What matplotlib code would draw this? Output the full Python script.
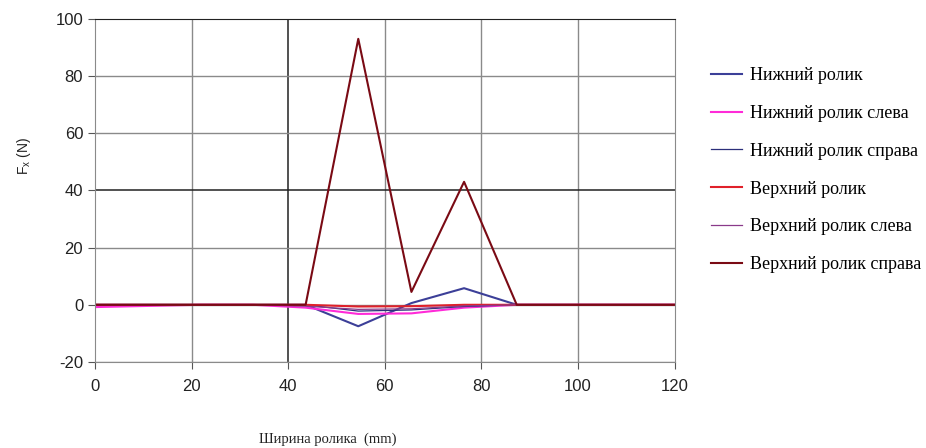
import matplotlib
matplotlib.use("Agg")
import matplotlib.pyplot as plt

plt.rcParams["axes.unicode_minus"] = False

# Roller width positions (mm)
width_mm = [0, 10.9, 21.8, 32.7, 43.6, 54.5, 65.5, 76.4, 87.3, 98.2, 109.1, 120]

# Lateral force Fx (N) for each roller
lower = [0, 0, 0, 0, 0, -7.5, 0.6, 5.8, 0, 0, 0, 0]
lower_left = [-0.8, -0.4, 0, 0, -1.0, -3.2, -3.0, -1.0, 0, 0, 0, 0]
lower_right = [0, 0, 0, 0, 0, -2.2, -1.8, -0.6, 0, 0, 0, 0]
upper = [0, 0, 0, 0, 0, -0.6, -0.5, 0, 0, 0, 0, 0]
upper_left = [0, 0, 0, 0, -0.5, -1.6, -1.4, -0.4, 0, 0, 0, 0]
upper_right = [0, 0, 0, 0, 0, 93, 4.5, 43, 0, 0, 0, 0]

labels = ["Нижний ролик", "Нижний ролик слева", "Нижний ролик справа",
          "Верхний ролик", "Верхний ролик слева", "Верхний ролик справа"]
series = [lower, lower_left, lower_right, upper, upper_left, upper_right]
colors = ["#3c3f98", "#ff2bd8", "#2b2f7a", "#e0202a", "#8a3a8a", "#7a0a14"]
widths = [1.5, 1.5, 0.9, 1.5, 0.9, 1.5]

fig = plt.figure(figsize=(9.26, 4.48), dpi=100)
ax = fig.add_axes([0.1026, 0.192, 0.626, 0.766])

for ys, lab, c, lw in zip(series, labels, colors, widths):
    ax.plot(width_mm, ys, color=c, lw=lw, label=lab)

ax.set_xlim(0, 120)
ax.set_ylim(-20, 100)
ax.set_xticks(range(0, 121, 20))
ax.set_yticks(range(-20, 101, 20))

# Grid: emphasised lines at x=40 and y=40, y=100
for xv in [20, 60, 80, 100]:
    ax.axvline(xv, color="#8a8a8a", lw=1.0, zorder=0)
ax.axvline(40, color="#222222", lw=1.1, zorder=0)
for yv in [-20, 0, 20, 60, 80]:
    ax.axhline(yv, color="#8a8a8a", lw=1.0, zorder=0)
for yv in [40, 100]:
    ax.axhline(yv, color="#222222", lw=1.1, zorder=0)

for side in ["left", "right", "bottom"]:
    ax.spines[side].set_color("#8a8a8a")
ax.spines["top"].set_color("#222222")

ax.tick_params(axis="both", which="both", length=5, color="#555555",
               labelsize=12, labelcolor="#222222", direction="out")
ax.tick_params(axis="x", pad=7)
for t in ax.get_xticklabels() + ax.get_yticklabels():
    t.set_fontfamily("Liberation Sans")

fig.text(24 / 926, 1 - 156 / 448, r"F$_\mathregular{x}$ (N)",
         family="Liberation Sans", fontsize=10, color="#222222",
         rotation=90, ha="center", va="center")
fig.text(328 / 926, 1 - 439 / 448, "Ширина ролика  (mm)",
         family="Liberation Serif", fontsize=10.5, color="#222222",
         ha="center", va="center")

leg = ax.legend(loc="upper left", bbox_to_anchor=(1.05, 0.88), frameon=False,
                prop={"family": "Liberation Serif", "size": 13},
                handlelength=1.72, handletextpad=0.45, labelspacing=1.15,
                borderaxespad=0)

fig.savefig("out.png", dpi=100, facecolor="white")
